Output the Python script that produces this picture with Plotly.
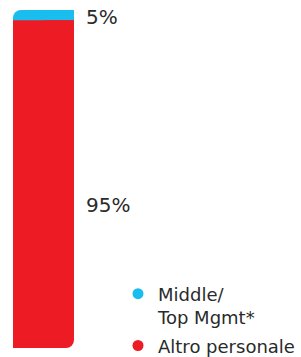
import plotly.graph_objects as go

# ---- data ----
categories = ["Middle/<br>Top Mgmt*", "Altro personale"]
values = [5, 95]            # percent
labels = ["5%", "95%"]
colors = ["#19BEEF", "#ED1C24"]

TEXT = "#2A2A2A"
FONT = "DejaVu Sans"
RADIUS = 8
OVERLAP = 2.0  # red segment tucks under the blue cap (style)
SEAM = 1.0     # small overlap between the two red layers (style)

total = sum(values)
top_val, red_val = values[0], values[1]
mid = red_val / 2          # split point of the red body
red_top = red_val + OVERLAP

fig = go.Figure()

def piece(y, color, offset=-0.5, width=1.0, radius=0, yaxis="y"):
    fig.add_trace(go.Bar(
        x=[0], y=[y], offset=offset, width=width, yaxis=yaxis,
        marker=dict(color=color, line=dict(width=0), cornerradius=radius),
        showlegend=False, hoverinfo="skip"))

# upper layer (axis y: zero at the split point, growing upward)
piece(total - mid, colors[0], radius=RADIUS)                 # blue cap, rounded top
piece(total - mid, colors[0], offset=0, width=0.5)           # square top-right
piece(red_top - mid, colors[1], radius=RADIUS)               # red upper, rounded top
piece(red_top - mid, colors[1], offset=0, width=0.5)         # square top-right
# lower layer (axis y2: zero just above the split point, growing downward)
piece(mid + SEAM, colors[1], radius=RADIUS, yaxis="y2")              # rounded bottom
piece(mid + SEAM, colors[1], offset=-0.5, width=0.5, yaxis="y2")     # square bottom-left

# legend entries
for i, (name, c) in enumerate(zip(categories, colors)):
    fig.add_trace(go.Scatter(x=[None], y=[None], mode="markers", name=name,
                             legendgroup=f"g{i}",
                             marker=dict(color=c, size=11, symbol="circle")))

# value labels
fig.add_annotation(x=0.5, y=red_val + top_val / 2 - mid, xref="x", yref="y", text=labels[0],
                   showarrow=False, xanchor="left", yanchor="middle", xshift=9.5, yshift=1,
                   font=dict(size=20, color=TEXT, family=FONT))
fig.add_annotation(x=0.5, y=red_val / 2 - mid, xref="x", yref="y", text=labels[1],
                   showarrow=False, xanchor="left", yanchor="middle", xshift=9.5, yshift=-18,
                   font=dict(size=20, color=TEXT, family=FONT))

fig.update_layout(
    width=301, height=357,
    margin=dict(l=0, r=0, t=10, b=9, autoexpand=False),
    paper_bgcolor="white", plot_bgcolor="white",
    barmode="overlay",
    xaxis=dict(range=[-0.5 - 13 / 61, -0.5 - 13 / 61 + 301 / 61], visible=False, fixedrange=True),
    yaxis=dict(range=[-mid, total - mid], visible=False, fixedrange=True),
    yaxis2=dict(range=[mid + SEAM, mid + SEAM - total], visible=False, fixedrange=True,
                overlaying="y"),
    legend=dict(x=118 / 301, xanchor="left", y=0.2145, yanchor="top",
                valign="top", bgcolor="rgba(0,0,0,0)",
                font=dict(size=18, color=TEXT, family=FONT),
                itemsizing="trace", tracegroupgap=2),
    font=dict(family=FONT, color=TEXT),
)

fig.write_html("out.html", config={"displayModeBar": False},
               post_script="document.body.style.margin='0';document.body.style.overflow='hidden';")
